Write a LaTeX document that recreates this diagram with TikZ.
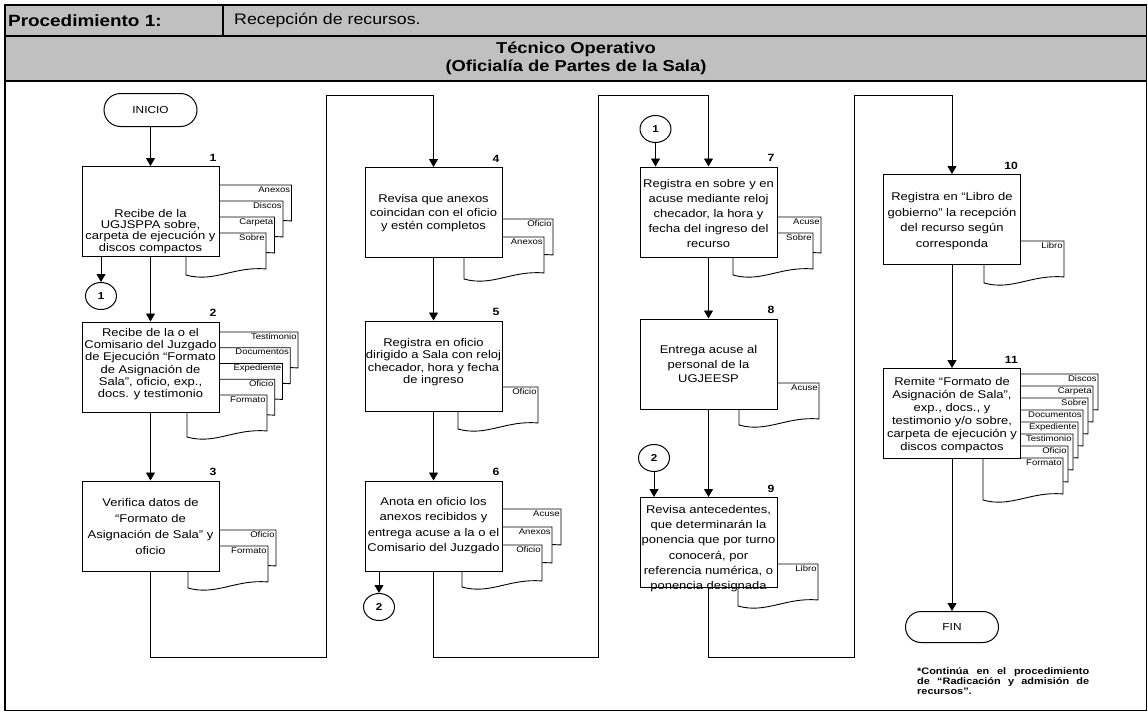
\documentclass[tikz,border=0pt]{standalone}
\usepackage{fontspec}
\setmainfont{Liberation Sans}[FakeStretch=1.16]
\usetikzlibrary{arrows.meta,shapes.misc,shapes.geometric}

\definecolor{headfill}{RGB}{192,192,192}

\tikzset{
  x=1pt, y=-1pt,
  frame/.style={draw=black, line width=1.2pt},
  headbold/.style={inner sep=0pt, font=\bfseries\fontsize{16.3}{17.5}\selectfont},
  headplain/.style={inner sep=0pt, font=\fontsize{15.3}{17.5}\selectfont},
  rolebold/.style={inner sep=0pt, font=\bfseries\fontsize{15.8}{17.5}\selectfont},
  flow/.style={draw=black, line width=0.9pt, -{Triangle[width=9pt,length=8pt]}},
  stepbox/.style={draw=black, fill=white, line width=1pt, minimum width=137pt,
                  minimum height=90pt, inner sep=0pt},
  steptext/.style={align=center, inner sep=0pt, font=\fontsize{11.2}{#1}\selectfont},
  steptext/.default=13,
  stepnum/.style={anchor=south east, inner sep=0pt, font=\bfseries\fontsize{10.5}{12}\selectfont},
  term/.style={rounded rectangle, draw=black, fill=white, line width=1pt,
               minimum width=93pt, inner sep=0pt, font=\fontsize{10.2}{12}\selectfont},
  jump/.style={ellipse, draw=black, fill=white, line width=1pt, minimum width=31pt,
               minimum height=27pt, inner sep=0pt, font=\bfseries\fontsize{10}{12}\selectfont},
  docline/.style={draw=black, fill=white, line width=0.9pt},
  doclabel/.style={anchor=north east, inner sep=0.6pt, font=\fontsize{8.2}{9}\selectfont},
  notetext/.style={anchor=north west, inner sep=0pt, text width=172pt, align=justify,
                   font=\bfseries\fontsize{9.4}{10.2}\selectfont},
}

% one sheet of a document stack: name, left x, top y, label
\newcommand{\docpage}[4]{%
  \filldraw[docline] (#2,#3) -- ({#2+80},#3) -- ({#2+80},{#3+36})
    .. controls ({#2+48},{#3+33}) and ({#2+28},{#3+50}) .. (#2,{#3+42}) -- cycle;
  \node[doclabel] (#1) at ({#2+79.4},{#3+0.6}) {#4};
}

\begin{document}
\begin{tikzpicture}
\useasboundingbox (0,0) rectangle (1148,712);

% ---- header table ----
\fill[headfill] (5,5) rectangle (1146.5,81);
\draw[frame] (5,5) rectangle (1146.5,710.5);
\draw[frame] (5,36) -- (1146.5,36);
\draw[frame] (5,81) -- (1146.5,81);
\draw[frame] (223,5) -- (223,36);
\node[headbold, anchor=west] (proc) at (8,20.5) {Procedimiento 1:};
\node[headplain, anchor=west] (title) at (234,20.5) {Recepción de recursos.};
\node[rolebold, align=center] (role) at (576,58.5) {Técnico Operativo\\(Oficialía de Partes de la Sala)};

% ---- document stacks (back sheet first) ----
\docpage{d1a}{211.5}{185}{Anexos}
\docpage{d1b}{203}{201}{Discos}
\docpage{d1c}{194.5}{217}{Carpeta}
\docpage{d1d}{186}{233}{Sobre}

\docpage{d2a}{218}{332}{Testimonio}
\docpage{d2b}{210.25}{347.75}{Documentos}
\docpage{d2c}{202.5}{363.5}{Expediente}
\docpage{d2d}{194.75}{379.25}{Oficio}
\docpage{d2e}{187}{395}{Formato}

\docpage{d3a}{196}{530}{Oficio}
\docpage{d3b}{188}{546}{Formato}

\docpage{d4a}{473}{219}{Oficio}
\docpage{d4b}{464}{237}{Anexos}

\docpage{d5a}{458}{387}{Oficio}

\docpage{d6a}{481}{509}{Acuse}
\docpage{d6b}{472}{527}{Anexos}
\docpage{d6c}{462}{545}{Oficio}

\docpage{d7a}{741}{217}{Acuse}
\docpage{d7b}{733}{233}{Sobre}

\docpage{d8a}{739}{383}{Acuse}

\docpage{d9a}{738}{564}{Libro}

\docpage{d10a}{984}{241}{Libro}

\docpage{d11a}{1018}{374}{Discos}
\docpage{d11b}{1013}{386}{Carpeta}
\docpage{d11c}{1008}{398}{Sobre}
\docpage{d11d}{1003}{410}{Documentos}
\docpage{d11e}{998}{422}{Expediente}
\docpage{d11f}{993}{434}{Testimonio}
\docpage{d11g}{988}{446}{Oficio}
\docpage{d11h}{983}{458}{Formato}

% ---- process boxes ----
\node[stepbox] (s1) at (150.5,211.5) {};
\node[stepbox] (s2) at (150.5,367) {};
\node[stepbox] (s3) at (150.5,526) {};
\node[stepbox] (s4) at (433.5,212.5) {};
\node[stepbox] (s5) at (433.5,366) {};
\node[stepbox] (s6) at (433.5,526) {};
\node[stepbox] (s7) at (708.5,212) {};
\node[stepbox] (s8) at (708.5,364) {};
\node[stepbox] (s9) at (708.5,542.5) {};
\node[stepbox] (s10) at (952,219.5) {};
\node[stepbox] (s11) at (952,413.5) {};

\node[steptext=11.2] (s1t) at (150.5,231.5) {Recibe de la\\UGJSPPA sobre,\\carpeta de ejecución y\\discos compactos};
\node[steptext=12.2] (s2t) at (150.5,364) {Recibe de la o el\\Comisario del Juzgado\\de Ejecución “Formato\\de Asignación de\\Sala”, oficio, exp.,\\docs. y testimonio};
\node[steptext=16] (s3t) at (150.5,526) {Verifica datos de\\“Formato de\\Asignación de Sala” y\\oficio};
\node[steptext=13.5] (s4t) at (433.5,213.5) {Revisa que anexos\\coincidan con el oficio\\y estén completos};
\node[steptext=12.4] (s5t) at (433.5,362) {Registra en oficio\\dirigido a Sala con reloj\\checador, hora y fecha\\de ingreso};
\node[steptext=15.4] (s6t) at (433.5,525.5) {Anota en oficio los\\anexos recibidos y\\entrega acuse a la o el\\Comisario del Juzgado};
\node[steptext=14.8] (s7t) at (708.5,213.5) {Registra en sobre y en\\acuse mediante reloj\\checador, la hora y\\fecha del ingreso del\\recurso};
\node[steptext=14.5] (s8t) at (708.5,364) {Entrega acuse al\\personal de la\\UGJEESP};
\node[steptext=15.2] (s9t) at (708.5,548.5) {Revisa antecedentes,\\que determinarán la\\ponencia que por turno\\conocerá, por\\referencia numérica, o\\ponencia designada};
\node[steptext=15.7] (s10t) at (952,221) {Registra en “Libro de\\gobierno” la recepción\\del recurso según\\corresponda};
\node[steptext=13] (s11t) at (952,415) {Remite “Formato de\\Asignación de Sala”,\\exp., docs., y\\testimonio y/o sobre,\\carpeta de ejecución y\\discos compactos};

% ---- step numbers ----
\foreach \s/\n in {s1/1,s2/2,s3/3,s4/4,s5/5,s6/6,s7/7,s8/8,s9/9,s10/10,s11/11}
  \node[stepnum] (n\n) at ([xshift=-3pt,yshift=4.5pt]\s.north east) {\n};

% ---- start / end ----
\node[term, minimum height=33pt] (inicio) at (150.5,110) {INICIO};
\node[term, minimum height=31pt] (fin) at (952,627) {FIN};

% ---- on-page connectors ----
\node[jump] (c1a) at (101,296) {1};
\node[jump] (c2a) at (379,607) {2};
\node[jump] (c1b) at (655.5,129) {1};
\node[jump] (c2b) at (654,458) {2};

% ---- bends between columns ----
\coordinate (j1) at (326,657);
\coordinate (j2) at (326,95);
\coordinate (j3) at (598,657);
\coordinate (j4) at (598,95);
\coordinate (j5) at (854,657);
\coordinate (j6) at (854,95);

% ---- flow ----
\draw[flow] (inicio.south) -- (s1.north);
\draw[flow] (s1.south) -- (s2.north);
\draw[flow] (s1.south -| c1a) -- (c1a.north);
\draw[flow] (s2.south) -- (s3.north);
\draw[flow] (s3.south) |- (j1) -- (j2) -| (s4.north);
\draw[flow] (s4.south) -- (s5.north);
\draw[flow] (s5.south) -- (s6.north);
\draw[flow] (s6.south -| c2a) -- (c2a.north);
\draw[flow] (s6.south) |- (j3) -- (j4) -| (s7.north);
\draw[flow] (c1b.south) -- (c1b.south |- s7.north);
\draw[flow] (s7.south) -- (s8.north);
\draw[flow] (s8.south) -- (s9.north);
\draw[flow] (c2b.south) -- (c2b.south |- s9.north);
\draw[flow] (s9.south) |- (j5) -- (j6) -| (s10.north);
\draw[flow] (s10.south) -- (s11.north);
\draw[flow] (s11.south) -- (fin.north);

% ---- footnote ----
\node[notetext] (note) at (917,667) {\hyphenpenalty=10000 *Continúa en el procedimiento\linebreak de “Radicación y admisión de\linebreak recursos”.};
\end{tikzpicture}
\end{document}
